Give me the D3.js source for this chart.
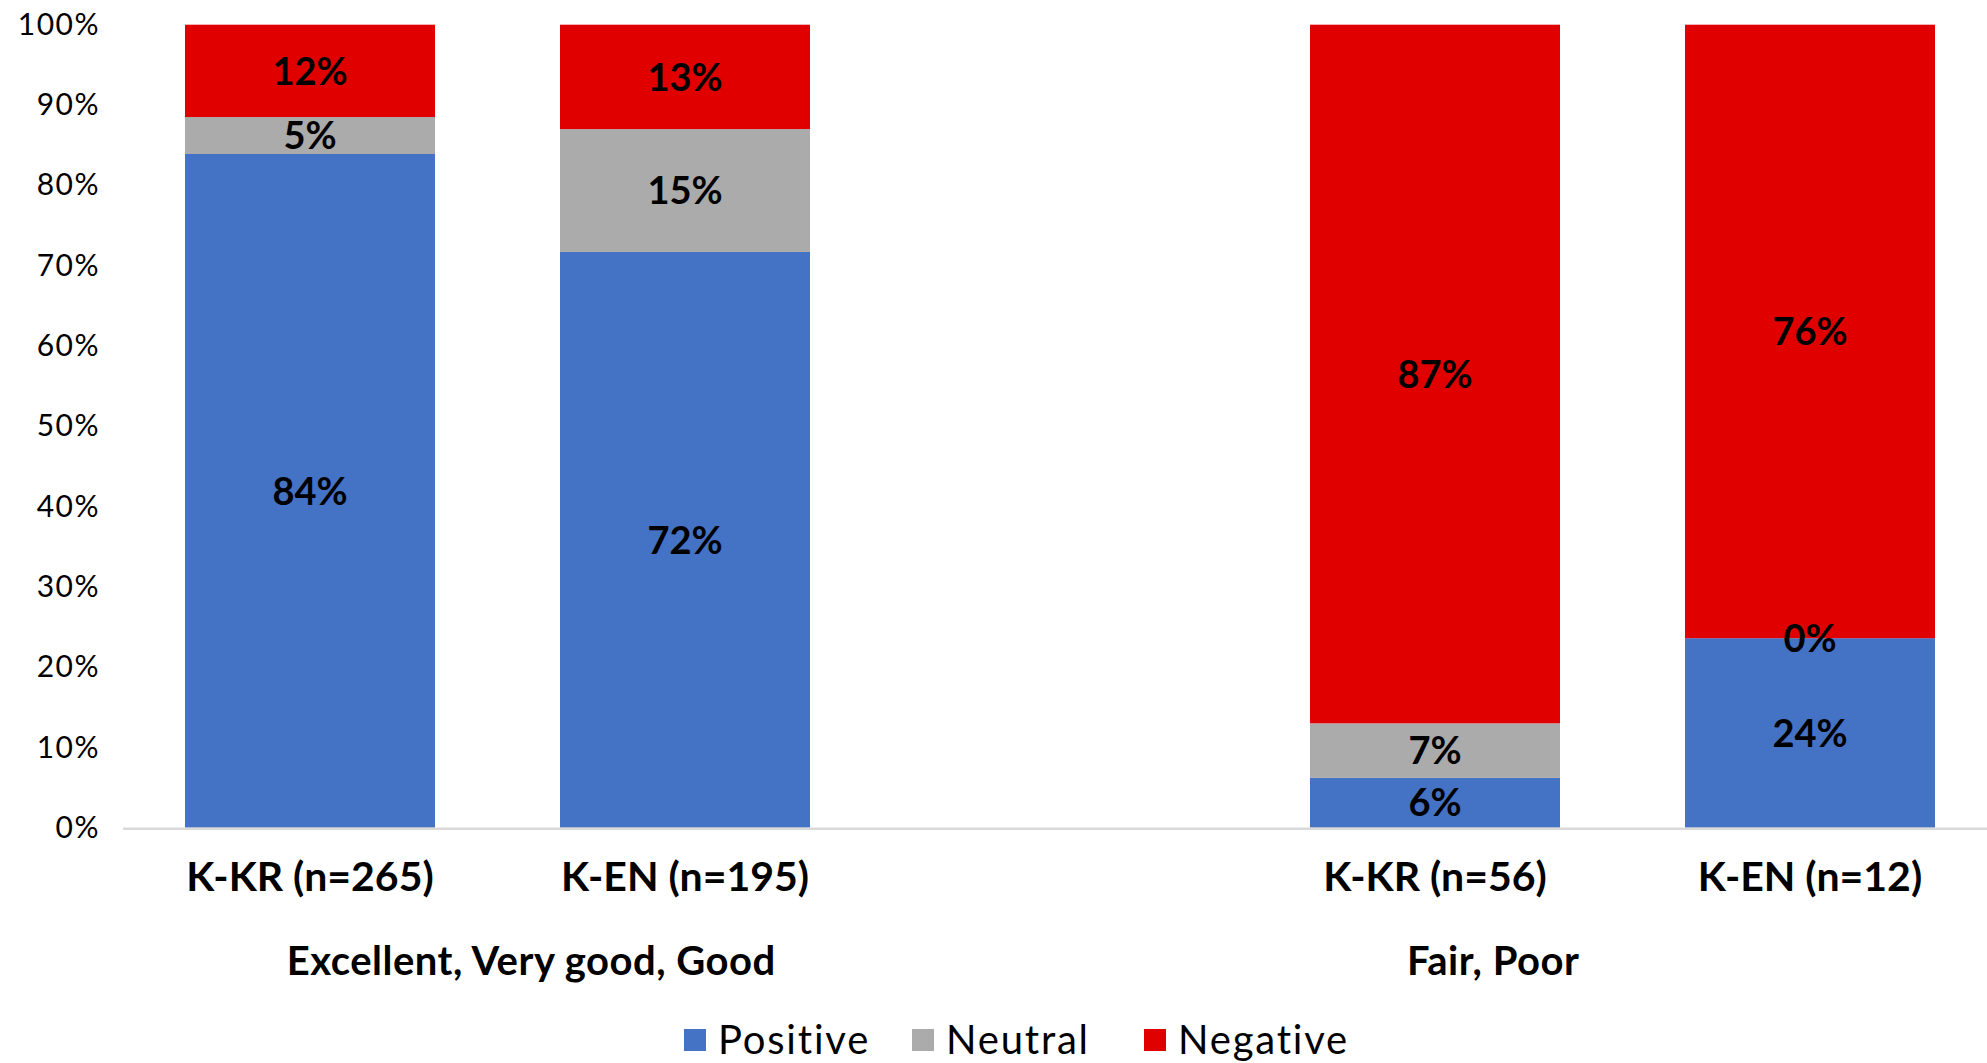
<!DOCTYPE html>
<html>
<head>
<meta charset="utf-8">
<script src="https://cdn.jsdelivr.net/npm/d3@7"></script>
<style>
  html, body { margin: 0; padding: 0; background: #ffffff; }
  svg { display: block; }
</style>
</head>
<body>
<svg id="chart" width="1987" height="1063"></svg>
<script>
// Stacked 100% bars: sentiment share by respondent group
const categories = ["K-KR (n=265)", "K-EN (n=195)", "K-KR (n=56)", "K-EN (n=12)"];
const groupNames = ["Excellent, Very good, Good", "Fair, Poor"];
const seriesNames = ["Positive", "Neutral", "Negative"];
const positive = [83.9, 71.7, 6.2, 23.6];
const neutral  = [4.6, 15.3, 6.8, 0.0];
const negative = [11.5, 13.0, 87.0, 76.4];
const yTicks = [0, 10, 20, 30, 40, 50, 60, 70, 80, 90, 100];

const colors = { Positive: "#4472C4", Neutral: "#ABABAB", Negative: "#E00000" };
const FONT = "Lato, 'Open Sans', sans-serif";

const svg = d3.select("#chart");
const W = 1987, H = 1063;
const plotTop = 24.7, plotBottom = 827.7, plotLeft = 122.5, plotRight = 1997.5;

// five slots on the category axis: two bars, an empty spacer, two bars
const slots = ["c0", "c1", "spacer", "c2", "c3"];
const slotOf = ["c0", "c1", "c2", "c3"];
const x = d3.scaleBand().domain(slots).range([plotLeft, plotRight])
  .paddingInner(1 / 3).paddingOuter(1 / 6);
const y = d3.scaleLinear().domain([0, 100]).range([plotBottom, plotTop]);

const rows = categories.map((c, i) => ({
  key: slotOf[i], label: c,
  Positive: positive[i], Neutral: neutral[i], Negative: negative[i]
}));
const stacked = d3.stack().keys(seriesNames)(rows);

// bars
const layers = svg.append("g").selectAll("g").data(stacked).join("g")
  .attr("fill", d => colors[d.key]);
layers.selectAll("rect").data(d => d).join("rect")
  .attr("x", d => x(d.data.key))
  .attr("width", x.bandwidth())
  .attr("y", d => y(d[1]))
  .attr("height", d => y(d[0]) - y(d[1]));

// data labels
const fmt = d3.format(".0%");
const labelG = svg.append("g")
  .attr("font-family", FONT)
  .attr("font-weight", "bold")
  .attr("font-size", 38)
  .attr("fill", "#000")
  .attr("text-anchor", "middle");
stacked.forEach(layer => {
  layer.forEach(d => {
    labelG.append("text")
      .attr("x", x(d.data.key) + x.bandwidth() / 2)
      .attr("y", (y(d[0]) + y(d[1])) / 2)
      .attr("dy", "0.36em")
      .text(fmt((d[1] - d[0]) / 100));
  });
});

// baseline of category axis
svg.append("line")
  .attr("x1", plotLeft + 0.5).attr("x2", W)
  .attr("y1", y(0) + 1).attr("y2", y(0) + 1)
  .attr("stroke", "#D9D9D9").attr("stroke-width", 2.5);

// value axis labels
const yAxis = d3.axisLeft(y).tickValues(yTicks).tickSize(0).tickPadding(0)
  .tickFormat(d => d + "%");
const ya = svg.append("g").attr("transform", "translate(100,0)").call(yAxis);
ya.select(".domain").remove();
ya.selectAll("text")
  .attr("font-family", FONT)
  .attr("font-size", 30)
  .attr("letter-spacing", 1.5)
  .attr("fill", "#000");

// category labels
const xAxis = d3.axisBottom(x).tickSize(0).tickPadding(0)
  .tickFormat(k => k === "spacer" ? "" : categories[slotOf.indexOf(k)]);
const xa = svg.append("g").attr("transform", `translate(0,${plotBottom + 34})`).call(xAxis);
xa.select(".domain").remove();
xa.selectAll("text")
  .attr("font-family", FONT)
  .attr("font-weight", "bold")
  .attr("font-size", 41)
  .attr("fill", "#000");

// group labels beneath the categories
const slotPos = d3.scaleLinear().domain([0, slots.length]).range([plotLeft, plotRight]);
const groupAt = [1.09, 3.655];
svg.append("g").selectAll("text").data(groupNames).join("text")
  .attr("x", (d, i) => slotPos(groupAt[i]))
  .attr("y", 961)
  .attr("dy", "0.36em")
  .attr("text-anchor", "middle")
  .attr("font-family", FONT)
  .attr("font-weight", "bold")
  .attr("font-size", 40)
  .attr("letter-spacing", 0.5)
  .attr("fill", "#000")
  .text(d => d);

// legend
const legendX = [684, 912, 1144];
const lg = svg.append("g").selectAll("g").data(seriesNames).join("g")
  .attr("transform", (d, i) => `translate(${legendX[i]},1040)`);
lg.append("rect").attr("x", 0).attr("y", -11).attr("width", 22).attr("height", 22)
  .attr("fill", d => colors[d]);
lg.append("text").attr("x", 34).attr("y", 0).attr("dy", "0.36em")
  .attr("font-family", FONT)
  .attr("font-size", 40)
  .attr("letter-spacing", 1.8)
  .attr("fill", "#000")
  .text(d => d);
</script>
</body>
</html>
